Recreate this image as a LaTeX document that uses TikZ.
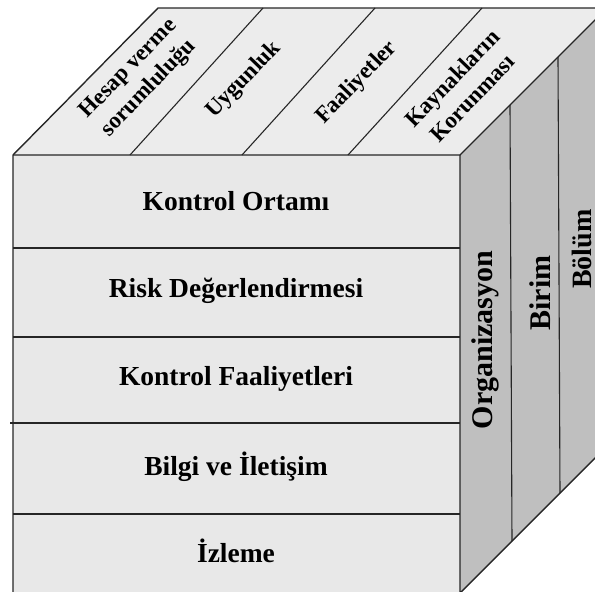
\documentclass[tikz,border=0pt]{standalone}
\usepackage{fontspec}
\setmainfont{Liberation Serif}
\definecolor{frontgray}{RGB}{232,232,232}
\definecolor{topgray}{RGB}{236,236,236}
\definecolor{sidegray}{RGB}{191,191,191}
\begin{document}
\begin{tikzpicture}[x=1pt,y=-1pt,line join=round,
  edge/.style={draw=black!85,line width=1.4pt},
  thin edge/.style={draw=black!85,line width=1.1pt},
  frontlabel/.style={font=\fontsize{27.5}{32}\selectfont\bfseries,inner sep=0pt},
  toplabel/.style={font=\fontsize{23}{28}\selectfont\bfseries,rotate=46,align=center,inner sep=0pt},
  sidelabel/.style={font=\fontsize{30}{34}\selectfont\bfseries,rotate=90,inner sep=0pt}]
\useasboundingbox (0,0) rectangle (595,592);
\clip (0,0) rectangle (595,592);
% corners
\coordinate (FTL) at (13,155);
\coordinate (FTR) at (460,155);
\coordinate (FBL) at (13,594);
\coordinate (FBR) at (460,593);
\coordinate (BTL) at (158,8);
\coordinate (BTR) at (607,8);
\coordinate (BBR) at (607,446);
% faces
\fill[frontgray] (FTL) rectangle (FBR |- FBL);
\fill[topgray] (FTL) -- (BTL) -- (BTR) -- (FTR) -- cycle;
\fill[sidegray] (FTR) -- (BTR) -- (BBR) -- (FBR) -- cycle;
% front rows
\coordinate (d1L) at (13,248); \coordinate (d1R) at (460,248);
\coordinate (d2L) at (13,337); \coordinate (d2R) at (460,337);
\coordinate (d3L) at (10,423); \coordinate (d3R) at (460,423);
\coordinate (d4L) at (13,514); \coordinate (d4R) at (460,514);
\draw[thin edge] (d1L) -- (d1R);
\draw[thin edge] (d2L) -- (d2R);
\draw[thin edge] (d3L) -- (d3R);
\draw[thin edge] (d4L) -- (d4R);
% top dividers
\coordinate (t1F) at (130,155); \coordinate (t1B) at (263,8);
\coordinate (t2F) at (242,155); \coordinate (t2B) at (375,8);
\coordinate (t3F) at (348,155); \coordinate (t3B) at (482,8);
\draw[thin edge] (t1F) -- (t1B);
\draw[thin edge] (t2F) -- (t2B);
\draw[thin edge] (t3F) -- (t3B);
% side dividers
\coordinate (s1T) at (510,105); \coordinate (s1B) at (512,541);
\coordinate (s2T) at (558,57); \coordinate (s2B) at (560,493);
\draw[thin edge] (s1T) -- (s1B);
\draw[thin edge] (s2T) -- (s2B);
% outline
\draw[edge] (FBL) -- (FTL) -- (BTL) -- (BTR);
\draw[edge] (FTL) -- (FTR) -- (BTR);
\draw[edge] (FTR) -- (FBR) -- (BBR);
% front labels
\node[frontlabel] (r1) at (236,201) {Kontrol Ortamı};
\node[frontlabel] (r2) at (236,291) {Risk Değerlendirmesi};
\node[frontlabel] (r3) at (236,379) {Kontrol Faaliyetleri};
\node[frontlabel] (r4) at (236,467) {Bilgi ve İletişim};
\node[frontlabel] (r5) at (236,551) {İzleme};
% top labels
\node[toplabel] (c1) at (139,79) {Hesap verme\\sorumluluğu};
\node[toplabel] (c2) at (244,80) {Uygunluk};
\node[toplabel] (c3) at (357,83) {Faaliyetler};
\node[toplabel] (c4) at (462,88) {Kaynakların\\Korunması};
% side labels
\node[sidelabel] (o1) at (485,340) {Organizasyon};
\node[sidelabel] (o2) at (540,293) {Birim};
\node[sidelabel,font=\fontsize{28}{32}\selectfont\bfseries] (o3) at (582,249) {Bölüm};
\end{tikzpicture}
\end{document}
